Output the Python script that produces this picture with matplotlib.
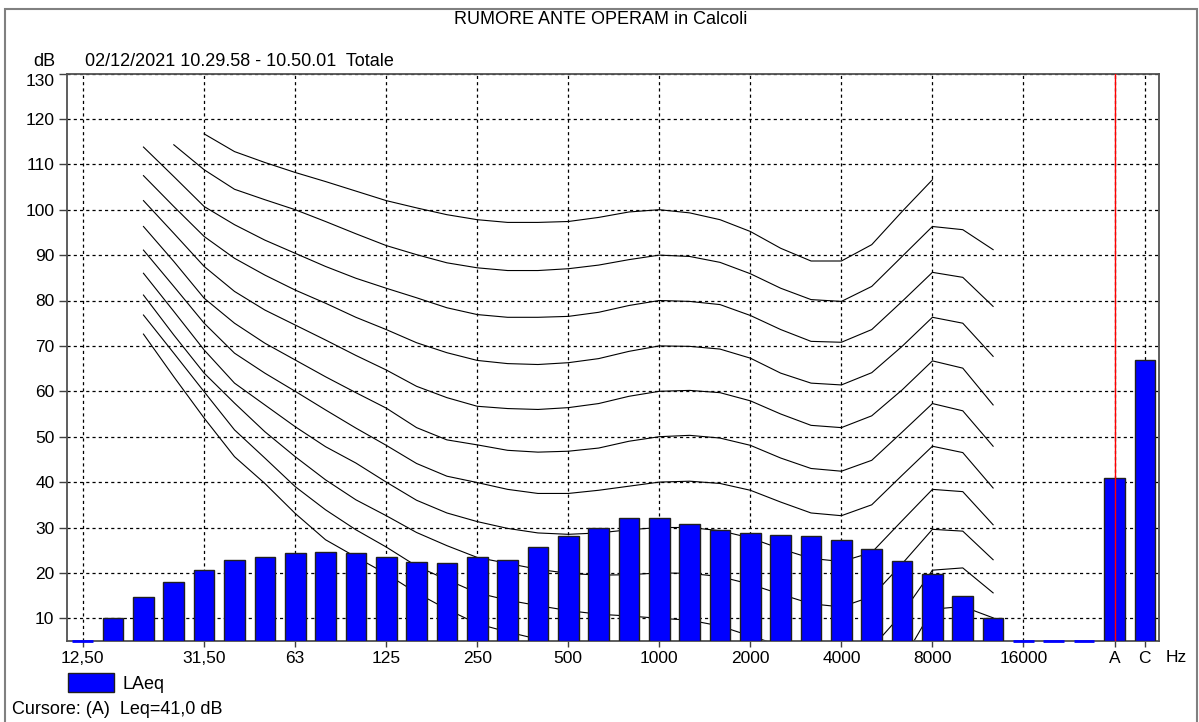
import matplotlib.pyplot as plt
from matplotlib.patches import Rectangle, Patch

plt.rcParams['font.family'] = ['Liberation Sans', 'DejaVu Sans']

# third-octave bands + A, C totals
bands = ['12,50', '16', '20', '25', '31,50', '40', '50', '63', '80', '100', '125', '160',
         '200', '250', '315', '400', '500', '630', '800', '1000', '1250', '1600', '2000',
         '2500', '3150', '4000', '5000', '6300', '8000', '10000', '12500', '16000', '20000',
         '', 'A', 'C']
laeq = [0.0, 10.0, 14.7, 18.0, 20.7, 22.9, 23.6, 24.4, 24.6, 24.4, 23.4, 22.5,
        22.2, 23.4, 22.9, 25.8, 28.2, 30.0, 32.1, 32.1, 30.7, 29.5, 28.8,
        28.4, 28.2, 27.2, 25.3, 22.7, 19.7, 15.0, 10.0, 0.0, 0.0,
        0.0, 41.0, 66.8]
labelled = ['12,50', '31,50', '63', '125', '250', '500', '1000', '2000', '4000',
            '8000', '16000', 'A', 'C']

# equal loudness contours (dB), 20 Hz .. 12500 Hz unless noted
phon_100 = [116.7, 112.8, 110.4, 108.2, 106.2, 104.1, 102.0, 100.4, 98.9, 97.8, 97.2, 97.2,
            97.4, 98.3, 99.5, 100.0, 99.3, 97.8, 95.2, 91.5, 88.7, 88.7, 92.3, 99.6, 106.6]
phon_90 = [114.3, 108.8, 104.5, 102.2, 100.0, 97.4, 94.7, 92.1, 90.1, 88.3, 87.2, 86.6, 86.6,
           87.0, 87.8, 89.0, 90.0, 89.7, 88.4, 85.9, 82.7, 80.2, 79.8, 83.1, 89.7, 96.3, 95.6, 91.2]
phon_80 = [113.8, 107.3, 100.7, 96.7, 93.3, 90.4, 87.5, 84.9, 82.7, 80.6, 78.4, 76.9, 76.3, 76.3,
           76.5, 77.4, 78.9, 80.0, 79.8, 79.1, 76.7, 73.6, 71.0, 70.8, 73.6, 79.8, 86.2, 85.1, 78.7]
phon_70 = [107.5, 100.7, 94.1, 89.3, 85.6, 82.3, 79.4, 76.3, 73.6, 70.7, 68.5, 66.8, 66.1, 65.9,
           66.3, 67.2, 68.8, 70.0, 69.9, 69.3, 67.3, 64.0, 61.8, 61.4, 64.1, 69.9, 76.3, 75.0, 67.7]
phon_60 = [102.0, 94.8, 87.5, 82.0, 77.9, 74.6, 71.3, 67.9, 64.7, 61.1, 58.6, 56.7, 56.2, 56.0,
           56.4, 57.3, 58.9, 60.0, 60.2, 59.7, 57.9, 55.0, 52.5, 52.0, 54.6, 60.3, 66.7, 65.1, 57.0]
phon_50 = [96.3, 88.6, 80.5, 75.0, 70.6, 66.9, 63.2, 59.7, 56.3, 52.0, 49.3, 48.2, 47.0, 46.6,
           46.8, 47.5, 49.0, 50.0, 50.3, 49.7, 48.1, 45.3, 43.0, 42.4, 44.8, 51.0, 57.3, 55.7, 47.9]
phon_40 = [91.1, 83.1, 75.0, 68.4, 64.0, 60.0, 55.9, 51.9, 48.1, 44.1, 41.3, 39.9, 38.4, 37.5,
           37.5, 38.2, 39.1, 40.0, 40.2, 39.7, 38.2, 35.6, 33.2, 32.6, 35.0, 41.5, 47.9, 46.5, 38.7]
phon_30 = [86.0, 77.6, 69.1, 61.8, 57.0, 52.2, 47.8, 44.2, 40.0, 36.0, 33.2, 31.3, 29.8, 28.8,
           28.5, 28.8, 29.5, 30.0, 30.0, 29.3, 27.7, 25.3, 23.2, 22.5, 24.5, 31.5, 38.4, 37.9, 30.6]
phon_20 = [81.2, 72.4, 64.0, 57.4, 51.1, 45.6, 40.5, 36.1, 32.6, 28.9, 26.0, 23.4, 22.1, 20.8,
           19.9, 19.5, 19.6, 20.0, 19.9, 19.2, 17.5, 15.3, 13.2, 12.5, 14.8, 22.0, 29.6, 29.2, 22.9]
phon_10 = [76.8, 68.4, 59.9, 51.5, 45.3, 39.0, 33.9, 29.5, 25.7, 21.5, 18.5, 15.6, 14.0, 12.8,
           11.7, 10.9, 10.5, 10.0, 9.6, 8.3, 6.1, 4.0, 2.2, 1.7, 3.5, 11.0, 20.6, 21.1, 15.6]
phon_0 = [72.6, 63.2, 54.1, 45.6, 39.7, 33.1, 27.3, 23.5, 19.8, 15.6, 12.0, 8.8, 7.0, 5.4,
          4.0, 2.8, 1.5, 0.0, -0.5, -2.0, -4.0, -6.0, -7.5, -8.0, -5.5, 0.5, 12.0, 12.6, 10.1]

contours = [(phon_100, '31,50'), (phon_90, '25'), (phon_80, '20'), (phon_70, '20'),
            (phon_60, '20'), (phon_50, '20'), (phon_40, '20'), (phon_30, '20'),
            (phon_20, '20'), (phon_10, '20'), (phon_0, '20')]

W, H = 1199, 722
fig = plt.figure(figsize=(W / 100, H / 100), dpi=100)
ax = fig.add_axes([67 / W, (H - 641) / H, (1158.5 - 67) / W, (641 - 73.5) / H])

ymin = 5
x = list(range(len(bands)))

# contours behind the bars
for vals, start in contours:
    i0 = bands.index(start)
    ax.plot(range(i0, i0 + len(vals)), vals, color='black', lw=0.8, zorder=2)

heights = [max(v - ymin, 0) for v in laeq]
bars = ax.bar(x, heights, bottom=ymin, width=0.68, color='#0000ff',
              edgecolor='#202020', linewidth=1, zorder=3)
for b, v in zip(bars, laeq):
    if v <= ymin:
        b.set_edgecolor('#0000ff')
        b.set_linewidth(2)
        b.set_clip_on(False)

# cursor on A
ax.axvline(bands.index('A'), color='red', lw=1, zorder=4)

ax.set_xlim(-0.52, 35.45)
ax.set_ylim(ymin, 130)
ax.set_xticks([bands.index(b) for b in labelled])
ax.set_xticklabels(labelled)
ax.set_yticks(range(10, 131, 10))
ax.yaxis.get_major_ticks()[-1].label1.set_verticalalignment('top')

ax.grid(True, color='black', linestyle=(0, (2.5, 2.5)), linewidth=0.9, zorder=1)
ax.set_axisbelow(True)
ax.tick_params(axis='x', direction='out', length=4, width=1, color='#404040',
               labelsize=12.5, pad=3)
ax.tick_params(axis='y', direction='out', length=6, width=1, color='#404040',
               labelsize=12.5, pad=3)
for s in ax.spines.values():
    s.set_color('#505050')
    s.set_linewidth(1.3)

fig.text(601 / W, 1 - 20 / H, 'RUMORE ANTE OPERAM in Calcoli', ha='center', va='center', fontsize=13)
fig.text(44 / W, 1 - 61 / H, 'dB', ha='center', va='center', fontsize=13)
fig.text(85 / W, 1 - 61 / H, '02/12/2021 10.29.58 - 10.50.01  Totale', ha='left', va='center', fontsize=13)
fig.text(1176 / W, 1 - 658 / H, 'Hz', ha='center', va='center', fontsize=12.5)
fig.text(12 / W, 1 - 710 / H, 'Cursore: (A)  Leq=41,0 dB', ha='left', va='center', fontsize=13)

fig.legend(handles=[Patch(facecolor='#0000ff', edgecolor='#202020')], labels=['LAeq'],
           loc='center left', bbox_to_anchor=(68 / W, 1 - 683 / H), frameon=False,
           borderpad=0, borderaxespad=0, handlelength=46 / 18, handleheight=22 / 18,
           handletextpad=8 / 18, fontsize=13)

fig.add_artist(Rectangle((5 / W, -0.01), (1197 - 5) / W, 0.01 + (H - 9) / H,
                         transform=fig.transFigure, fill=False, edgecolor='#808080', lw=1.5))

fig.savefig('out.png', dpi=100)
